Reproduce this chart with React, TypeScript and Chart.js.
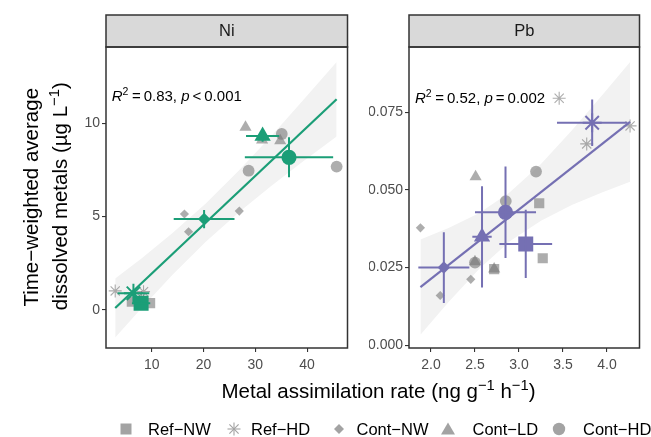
import React, { useEffect, useRef } from 'react';
import { Chart, registerables } from 'chart.js';

Chart.register(...registerables);

const W = 651;
const H = 437;
const FONT = '"Liberation Sans", Arial, Helvetica, sans-serif';

const groups = ['Ref−NW', 'Ref−HD', 'Cont−NW', 'Cont−LD', 'Cont−HD'];
const shapes = ['rect', 'star', 'rectRot', 'triangle', 'circle'];

// ---------- Ni panel ----------
const niRepX = [[6.14, 7.98, 9.67], [2.93, 8.4, 8.0], [16.3, 17.1, 26.9], [28.1, 31.3, 34.8], [35.1, 28.7, 45.7]];
const niRepY = [[0.44, 0.28, 0.36], [1.02, 0.98, 0.67], [5.14, 4.19, 5.3], [9.79, 9.1, 9.07], [9.43, 7.46, 7.68]];
const niMeanX = [7.93, 6.45, 20.1, 31.4, 36.5];
const niMeanY = [0.36, 0.89, 4.87, 9.32, 8.18];
const niSdX = [1.77, 3.06, 5.87, 3.2, 8.53];
const niSdY = [0.08, 0.19, 0.49, 0.31, 1.07];
const niFitX = [2.93, 45.7];
const niFitY = [0.1, 11.29];
const niBandX = [2.93, 8, 14, 20.48, 27, 33, 39, 45.7];
const niBandLo = [-1.48, 0.09, 1.88, 3.67, 5.28, 6.63, 7.91, 9.29];
const niBandHi = [1.68, 2.76, 4.12, 5.72, 7.52, 9.3, 11.17, 13.29];
const niXTicks = [10, 20, 30, 40];
const niYTicks = [0, 5, 10];

// ---------- Pb panel ----------
const pbRepX = [[3.23, 3.27, 2.718], [3.457, 3.77, 4.263], [1.88, 2.105, 2.452], [2.507, 2.5, 2.718], [3.194, 2.85, 2.5]];
const pbRepY = [[0.0457, 0.028, 0.0245], [0.0795, 0.0648, 0.0706], [0.0378, 0.016, 0.0212], [0.0542, 0.0269, 0.0245], [0.0559, 0.0464, 0.0266]];
const pbMeanX = [3.077, 3.832, 2.146, 2.58, 2.847];
const pbMeanY = [0.0326, 0.0716, 0.025, 0.0349, 0.0428];
const pbSdX = [0.3, 0.4, 0.29, 0.11, 0.347];
const pbSdY = [0.011, 0.0075, 0.0114, 0.0163, 0.0147];
const pbFitX = [1.88, 4.263];
const pbFitY = [0.0187, 0.0719];
const pbBandX = [1.88, 2.2, 2.55, 2.896, 3.25, 3.6, 3.95, 4.263];
const pbBandLo = [0.0034, 0.0139, 0.0246, 0.0335, 0.0401, 0.0451, 0.0492, 0.0526];
const pbBandHi = [0.034, 0.0377, 0.0426, 0.0492, 0.0583, 0.0691, 0.0806, 0.0912];
const pbXTicks = [2.0, 2.5, 3.0, 3.5, 4.0];
const pbYTicks = [0, 0.025, 0.05, 0.075];

const GREY = 'rgba(118,118,118,0.6)';
const BAND = '#F2F2F2';
const repRadius = [7.2, 6.5, 4.6, 7, 5.9];
const repBorder = [0, 1.1, 0, 0, 0];
const meanRadius = [10.6, 9.5, 6.2, 9.4, 7.6];
const meanBorder = [0, 2, 0, 0, 0];

const TS = '\u2009'; // thin space

const niPanel = {
  title: 'Ni', color: '#1B9E77',
  repX: niRepX, repY: niRepY, meanX: niMeanX, meanY: niMeanY, sdX: niSdX, sdY: niSdY,
  fitX: niFitX, fitY: niFitY, bandX: niBandX, bandLo: niBandLo, bandHi: niBandHi,
  xMin: 1.15, xMax: 47.8, yMin: -2.04, yMax: 14.09, xTicks: niXTicks, yTicks: niYTicks, xDec: 0, yDec: 0,
  area: { left: 106, right: 347.5, top: 47, bottom: 348 },
  eq: [{ t: 'R', it: true }, { t: '2', sup: true }, { t: `${TS}=${TS}0.83, ` }, { t: 'p', it: true }, { t: `${TS}<${TS}0.001` }],
  eqDx: 5.7, eqDy: 53.7,
};

const pbPanel = {
  title: 'Pb', color: '#7570B3',
  repX: pbRepX, repY: pbRepY, meanX: pbMeanX, meanY: pbMeanY, sdX: pbSdX, sdY: pbSdY,
  fitX: pbFitX, fitY: pbFitY, bandX: pbBandX, bandLo: pbBandLo, bandHi: pbBandHi,
  xMin: 1.75, xMax: 4.37, yMin: -0.0009, yMax: 0.096, xTicks: pbXTicks, yTicks: pbYTicks, xDec: 1, yDec: 3,
  area: { left: 409, right: 648.5, top: 47, bottom: 348 },
  eq: [{ t: 'R', it: true }, { t: '2', sup: true }, { t: `${TS}=${TS}0.52, ` }, { t: 'p', it: true }, { t: `${TS}=${TS}0.002` }],
  eqDx: 6, eqDy: 56.3,
};

function drawEq(ctx: any, x: number, y: number, parts: any[]) {
  let cx = x;
  for (const p of parts) {
    const size = p.sup ? 10.5 : 15;
    ctx.font = `${p.it ? 'italic ' : ''}${size}px ${FONT}`;
    ctx.fillStyle = '#000';
    ctx.textBaseline = 'alphabetic';
    ctx.textAlign = 'left';
    ctx.fillText(p.t, cx, p.sup ? y - 6 : y);
    cx += ctx.measureText(p.t).width + (p.sup ? 0.5 : 0);
  }
}

function buildChart(canvas: HTMLCanvasElement, p: any) {
  const repData: any[] = [];
  const repStyle: string[] = [];
  const repRad: number[] = [];
  const repBW: number[] = [];
  p.repX.forEach((xs: number[], g: number) => {
    xs.forEach((x, i) => {
      repData.push({ x, y: p.repY[g][i] });
      repStyle.push(shapes[g]);
      repRad.push(repRadius[g]);
      repBW.push(repBorder[g]);
    });
  });
  const meanData = p.meanX.map((x: number, i: number) => ({ x, y: p.meanY[i] }));
  const fitData = p.fitX.map((x: number, i: number) => ({ x, y: p.fitY[i] }));
  const hiData = p.bandX.map((x: number, i: number) => ({ x, y: p.bandHi[i] }));
  const loData = p.bandX.map((x: number, i: number) => ({ x, y: p.bandLo[i] }));
  const a = p.area;
  const yAxisW = 40;
  const xAxisH = 30;

  const facet = {
    id: 'facet' + p.title,
    afterDatasetsDraw(chart: any) {
      const { ctx } = chart;
      const xs = chart.scales.x;
      const ys = chart.scales.y;
      ctx.save();
      ctx.strokeStyle = p.color;
      ctx.lineWidth = 2;
      p.meanX.forEach((mx: number, i: number) => {
        const my = p.meanY[i];
        const px = xs.getPixelForValue(mx);
        const py = ys.getPixelForValue(my);
        ctx.beginPath();
        ctx.moveTo(xs.getPixelForValue(mx - p.sdX[i]), py);
        ctx.lineTo(xs.getPixelForValue(mx + p.sdX[i]), py);
        ctx.moveTo(px, ys.getPixelForValue(my - p.sdY[i]));
        ctx.lineTo(px, ys.getPixelForValue(my + p.sdY[i]));
        ctx.stroke();
      });
      ctx.restore();
    },
    afterDraw(chart: any) {
      const { ctx, chartArea: c } = chart;
      ctx.save();
      const w = c.right - c.left;
      const h = c.bottom - c.top;
      const sh = 32;
      ctx.fillStyle = '#D9D9D9';
      ctx.fillRect(c.left, c.top - sh, w, sh);
      ctx.strokeStyle = '#333333';
      ctx.lineWidth = 1.5;
      ctx.strokeRect(c.left, c.top - sh, w, sh);
      ctx.strokeRect(c.left, c.top, w, h);
      ctx.fillStyle = '#1A1A1A';
      ctx.font = `16.5px ${FONT}`;
      ctx.textAlign = 'center';
      ctx.textBaseline = 'middle';
      ctx.fillText(p.title, c.left + w / 2, c.top - sh / 2);
      drawEq(ctx, c.left + p.eqDx, c.top + p.eqDy, p.eq);
      ctx.restore();
    },
  };

  const axisCommon = (ticks: number[], dec: number, isX: boolean) => ({
    type: 'linear',
    afterBuildTicks: (s: any) => { s.ticks = ticks.map((v) => ({ value: v })); },
    afterFit: (s: any) => { if (isX) s.height = xAxisH; else s.width = yAxisW; },
    grid: { drawOnChartArea: false, drawTicks: true, tickLength: 4, color: '#333333', lineWidth: 1.1 },
    border: { display: false },
    ticks: {
      color: '#4D4D4D',
      font: { family: FONT, size: 14 },
      padding: isX ? 5 : 2,
      maxRotation: 0,
      autoSkip: false,
      callback: (v: any) => Number(v).toFixed(dec),
    },
  });

  return new Chart(canvas, {
    type: 'scatter',
    data: {
      datasets: [
        {
          type: 'scatter', data: meanData, pointStyle: shapes as any, pointRadius: meanRadius,
          pointBackgroundColor: p.color, pointBorderColor: p.color, pointBorderWidth: meanBorder, order: 1,
        },
        {
          type: 'line', data: fitData, borderColor: p.color, borderWidth: 2.2, pointRadius: 0, fill: false, order: 2,
        },
        {
          type: 'scatter', data: repData, pointStyle: repStyle as any, pointRadius: repRad,
          pointBackgroundColor: GREY, pointBorderColor: GREY, pointBorderWidth: repBW, order: 3,
        },
        {
          type: 'line', data: hiData, borderColor: 'rgba(0,0,0,0)', backgroundColor: BAND, fill: '+1', pointRadius: 0, order: 4,
        },
        {
          type: 'line', data: loData, borderColor: 'rgba(0,0,0,0)', fill: false, pointRadius: 0, order: 5,
        },
      ] as any,
    },
    options: {
      animation: false,
      responsive: false,
      maintainAspectRatio: false,
      devicePixelRatio: 1,
      events: [],
      layout: {
        padding: { left: a.left - yAxisW, right: W - a.right, top: a.top, bottom: H - a.bottom - xAxisH },
      },
      plugins: { legend: { display: false }, tooltip: { enabled: false } },
      scales: {
        x: { ...axisCommon(p.xTicks, p.xDec, true), min: p.xMin, max: p.xMax },
        y: { ...axisCommon(p.yTicks, p.yDec, false), min: p.yMin, max: p.yMax },
      } as any,
    },
    plugins: [facet],
  } as any);
}

const supStyle: any = { fontSize: '0.72em', verticalAlign: '0.55em', lineHeight: 0 };
const TITLE = 20.5;
const LEG = 16.5;
const legendX = [126.4, 233.5, 339, 448, 558.5];
const legendTextX = [148, 251, 356.5, 472.5, 583];
const LG = '#A3A3A3';

function LegendIcon({ shape }: { shape: string }) {
  if (shape === 'rect') return <rect x={2.5} y={2.5} width={11} height={11} fill={LG} />;
  if (shape === 'star')
    return (
      <g stroke={LG} strokeWidth={1.1}>
        <line x1={1.5} y1={8} x2={14.5} y2={8} />
        <line x1={8} y1={1.5} x2={8} y2={14.5} />
        <line x1={3.4} y1={3.4} x2={12.6} y2={12.6} />
        <line x1={3.4} y1={12.6} x2={12.6} y2={3.4} />
      </g>
    );
  if (shape === 'rectRot') return <polygon points="8,3 13,8 8,13 3,8" fill={LG} />;
  if (shape === 'triangle') return <polygon points="8,1.5 15,13.5 1,13.5" fill={LG} />;
  return <circle cx={8} cy={8} r={6.2} fill={LG} />;
}

export default function App() {
  const c1 = useRef<HTMLCanvasElement>(null);
  const c2 = useRef<HTMLCanvasElement>(null);
  useEffect(() => {
    const ch1 = buildChart(c1.current as HTMLCanvasElement, niPanel);
    const ch2 = buildChart(c2.current as HTMLCanvasElement, pbPanel);
    return () => {
      ch1.destroy();
      ch2.destroy();
    };
  }, []);

  const lineBox = (cx: number, cy: number, width: number): any => ({
    position: 'absolute', left: cx - width / 2, top: cy - TITLE / 2, width, height: TITLE,
    lineHeight: `${TITLE}px`, fontSize: TITLE, textAlign: 'center', whiteSpace: 'nowrap',
    transform: 'rotate(-90deg)', color: '#000',
  });

  return (
    <div style={{ position: 'fixed', left: 0, top: 0, width: W, height: H, background: '#fff', overflow: 'hidden', fontFamily: FONT }}>
      <canvas ref={c1} width={W} height={H} style={{ position: 'absolute', left: 0, top: 0, width: W, height: H }} />
      <canvas ref={c2} width={W} height={H} style={{ position: 'absolute', left: 0, top: 0, width: W, height: H }} />
      <div style={lineBox(30.5, 197, 340)}>Time−weighted average</div>
      <div style={lineBox(59.5, 196, 340)}>
        dissolved metals (µg L<sup style={supStyle}>−1</sup>)
      </div>
      <div style={{ position: 'absolute', left: 378.5 - 300, top: 398 - 17.35, width: 600, height: TITLE, lineHeight: `${TITLE}px`, fontSize: TITLE, textAlign: 'center', whiteSpace: 'nowrap', color: '#000' }}>
        Metal assimilation rate (ng g<sup style={supStyle}>−1</sup> h<sup style={supStyle}>−1</sup>)
      </div>
      {groups.map((g, i) => (
        <React.Fragment key={g}>
          <svg width={16} height={16} style={{ position: 'absolute', left: legendX[i] - 8, top: 429 - 8 }}>
            <LegendIcon shape={shapes[i]} />
          </svg>
          <div style={{ position: 'absolute', left: legendTextX[i], top: 421, fontSize: LEG, lineHeight: `${LEG}px`, whiteSpace: 'nowrap', color: '#000' }}>
            {g}
          </div>
        </React.Fragment>
      ))}
    </div>
  );
}
